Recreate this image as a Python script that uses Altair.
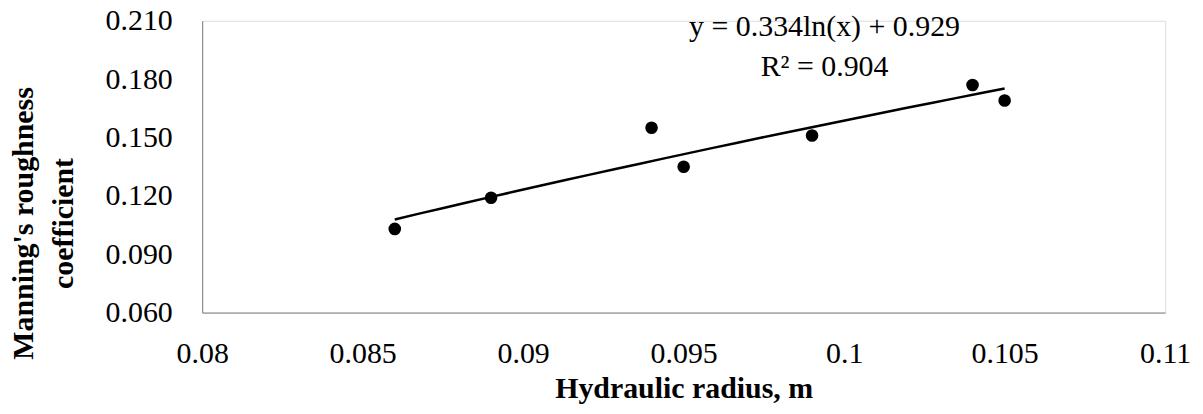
import altair as alt
import pandas as pd

# Data
hydraulic_radius = [0.086, 0.089, 0.094, 0.095, 0.099, 0.104, 0.105]
manning_n = [0.103, 0.119, 0.155, 0.135, 0.151, 0.177, 0.169]

x_ticks = [0.08, 0.085, 0.09, 0.095, 0.1, 0.105, 0.11]
y_ticks = [0.06, 0.09, 0.12, 0.15, 0.18, 0.21]

eq_line1 = "y = 0.334ln(x) + 0.929"
eq_line2 = "R² = 0.904"

df = pd.DataFrame({"x": hydraulic_radius, "y": manning_n})
one = pd.DataFrame({"k": [0]})

FONT = "Liberation Serif"

xs = alt.Scale(domain=[0.08, 0.11], nice=False, zero=False)
ys = alt.Scale(domain=[0.06, 0.21], nice=False, zero=False)

x_enc = alt.X(
    "x:Q", scale=xs,
    axis=alt.Axis(
        values=x_ticks, labelExpr="format(datum.value, '~g')",
        title="Hydraulic radius, m", grid=False, ticks=False,
        domainColor="#808080", domainWidth=1,
        labelFont=FONT, labelFontSize=30, labelColor="black", labelPadding=26,
        titleFont=FONT, titleFontSize=30, titleFontWeight="bold", titleColor="black",
        titlePadding=5, labelFlush=False, labelOverlap=False,
    ),
)
y_enc = alt.Y(
    "y:Q", scale=ys,
    axis=alt.Axis(
        values=y_ticks, format=".3f",
        title=["Manning's roughness", "coefficient"], grid=False, ticks=False,
        domainColor="#808080", domainWidth=1,
        labelFont=FONT, labelFontSize=30, labelColor="black", labelPadding=30,
        titleFont=FONT, titleFontSize=30, titleFontWeight="bold", titleColor="black",
        titleAngle=270, titleAlign="center", titleBaseline="top",
        titleX=-194, titleY=203, titleLineHeight=40,
        labelFlush=False, labelOverlap=False,
    ),
)

base = alt.Chart(df)

points = base.mark_circle(size=160, color="black", opacity=1).encode(x=x_enc, y=y_enc)

trend = base.transform_regression("x", "y", method="log").mark_line(
    color="black", strokeWidth=2.5
).encode(x=x_enc, y=y_enc)

ann1 = alt.Chart(one).mark_text(
    font=FONT, fontSize=30, color="black", align="center", baseline="alphabetic",
    text=eq_line1,
).encode(x=alt.value(625), y=alt.value(15))

ann2 = alt.Chart(one).mark_text(
    font=FONT, fontSize=30, color="black", align="center", baseline="alphabetic",
    text=eq_line2,
).encode(x=alt.value(625), y=alt.value(55))

chart = alt.layer(points, trend, ann1, ann2).properties(
    width=967, height=293,
    autosize=alt.AutoSizeParams(type="none"),
    padding={"left": 195, "top": 12, "right": 30, "bottom": 96},
).configure_view(stroke=None).configure(background="white")

chart.save("out.html", embed_options={"renderer": "svg", "actions": False})
